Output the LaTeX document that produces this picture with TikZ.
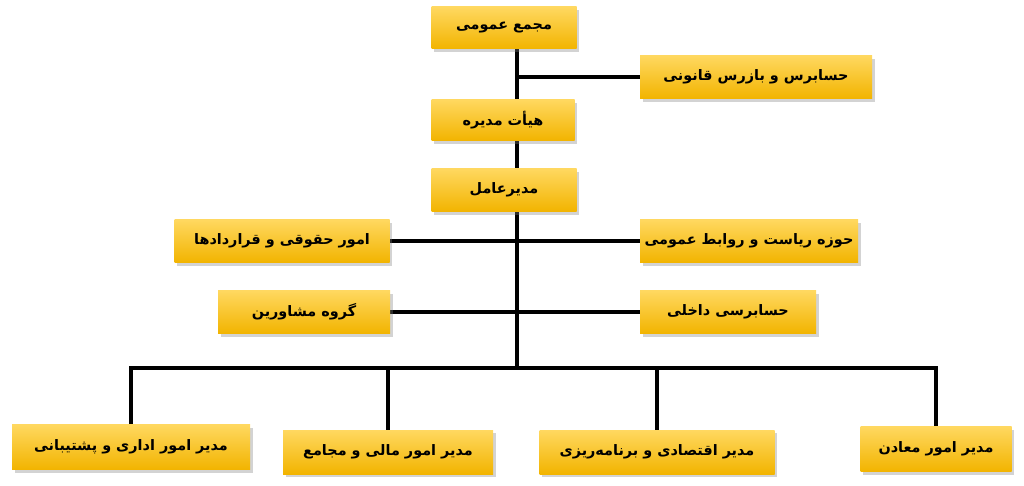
\documentclass[tikz,border=0pt]{standalone}
\usepackage{fontspec}
\newfontfamily\farsi[Script=Arabic]{DejaVu Sans}
\TeXXeTstate=1
\usetikzlibrary{shadows,backgrounds}
\definecolor{boxtop}{RGB}{255,216,96}
\definecolor{boxbot}{RGB}{242,180,0}
\tikzset{
  unitbox/.style={rectangle, top color=boxtop, bottom color=boxbot,
    drop shadow={shadow xshift=1.5pt, shadow yshift=-1.8pt, opacity=0.35},
    inner sep=0pt, font=\farsi\bfseries\fontsize{8.2}{10}\selectfont},
  conn/.style={line width=2.3pt, line cap=rect}
}
\newcommand{\fa}[1]{\beginR #1\endR}
\begin{document}
\begin{tikzpicture}[x=0.02cm, y=-0.02cm]
  \useasboundingbox (0,0) rectangle (1024,486);
  % top levels
  \node[unitbox, minimum width=145*0.02cm, minimum height=42*0.02cm] (majma) at (504,28) {\fa{مجمع عمومی}};
  \node[unitbox, minimum width=232*0.02cm, minimum height=43*0.02cm] (bazras) at (756,77) {\fa{حسابرس و بازرس قانونی}};
  \node[unitbox, minimum width=143*0.02cm, minimum height=41*0.02cm] (heyat) at (503,120) {\fa{هیأت مدیره}};
  \node[unitbox, minimum width=145*0.02cm, minimum height=43*0.02cm] (amel) at (504,190) {\fa{مدیرعامل}};
  % staff units
  \node[unitbox, minimum width=215*0.02cm, minimum height=43*0.02cm] (hoghoghi) at (282,241) {\fa{امور حقوقی و قراردادها}};
  \node[unitbox, minimum width=218*0.02cm, minimum height=43*0.02cm] (riasat) at (749,241) {\fa{حوزه ریاست و روابط عمومی}};
  \node[unitbox, minimum width=172*0.02cm, minimum height=43*0.02cm] (moshaver) at (304,312) {\fa{گروه مشاورین}};
  \node[unitbox, minimum width=176*0.02cm, minimum height=43*0.02cm] (dakheli) at (728,312) {\fa{حسابرسی داخلی}};
  % managers
  \node[unitbox, minimum width=238*0.02cm, minimum height=45*0.02cm] (edari) at (131,447) {\fa{مدیر امور اداری و پشتیبانی}};
  \node[unitbox, minimum width=210*0.02cm, minimum height=44*0.02cm] (mali) at (388,452) {\fa{مدیر امور مالی و مجامع}};
  \node[unitbox, minimum width=235*0.02cm, minimum height=44*0.02cm] (eghtesad) at (657,452) {\fa{مدیر اقتصادی و برنامه‌ریزی}};
  \node[unitbox, minimum width=151*0.02cm, minimum height=45*0.02cm] (maaden) at (936,449) {\fa{مدیر امور معادن}};
  \coordinate (trunk) at (517,49);
  \coordinate (bus) at (517,368);
  \begin{scope}[on background layer]
    \draw[conn] (trunk) -- (bus);
    \draw[conn] (bazras.west) -- (bazras.west -| trunk);
    \draw[conn] (hoghoghi.east) -- (riasat.west);
    \draw[conn] (moshaver.east) -- (dakheli.west);
    \draw[conn] (edari.north) |- (bus) -| (maaden.north);
    \draw[conn] (mali.north) -- (mali.north |- bus);
    \draw[conn] (eghtesad.north) -- (eghtesad.north |- bus);
  \end{scope}
\end{tikzpicture}
\end{document}
